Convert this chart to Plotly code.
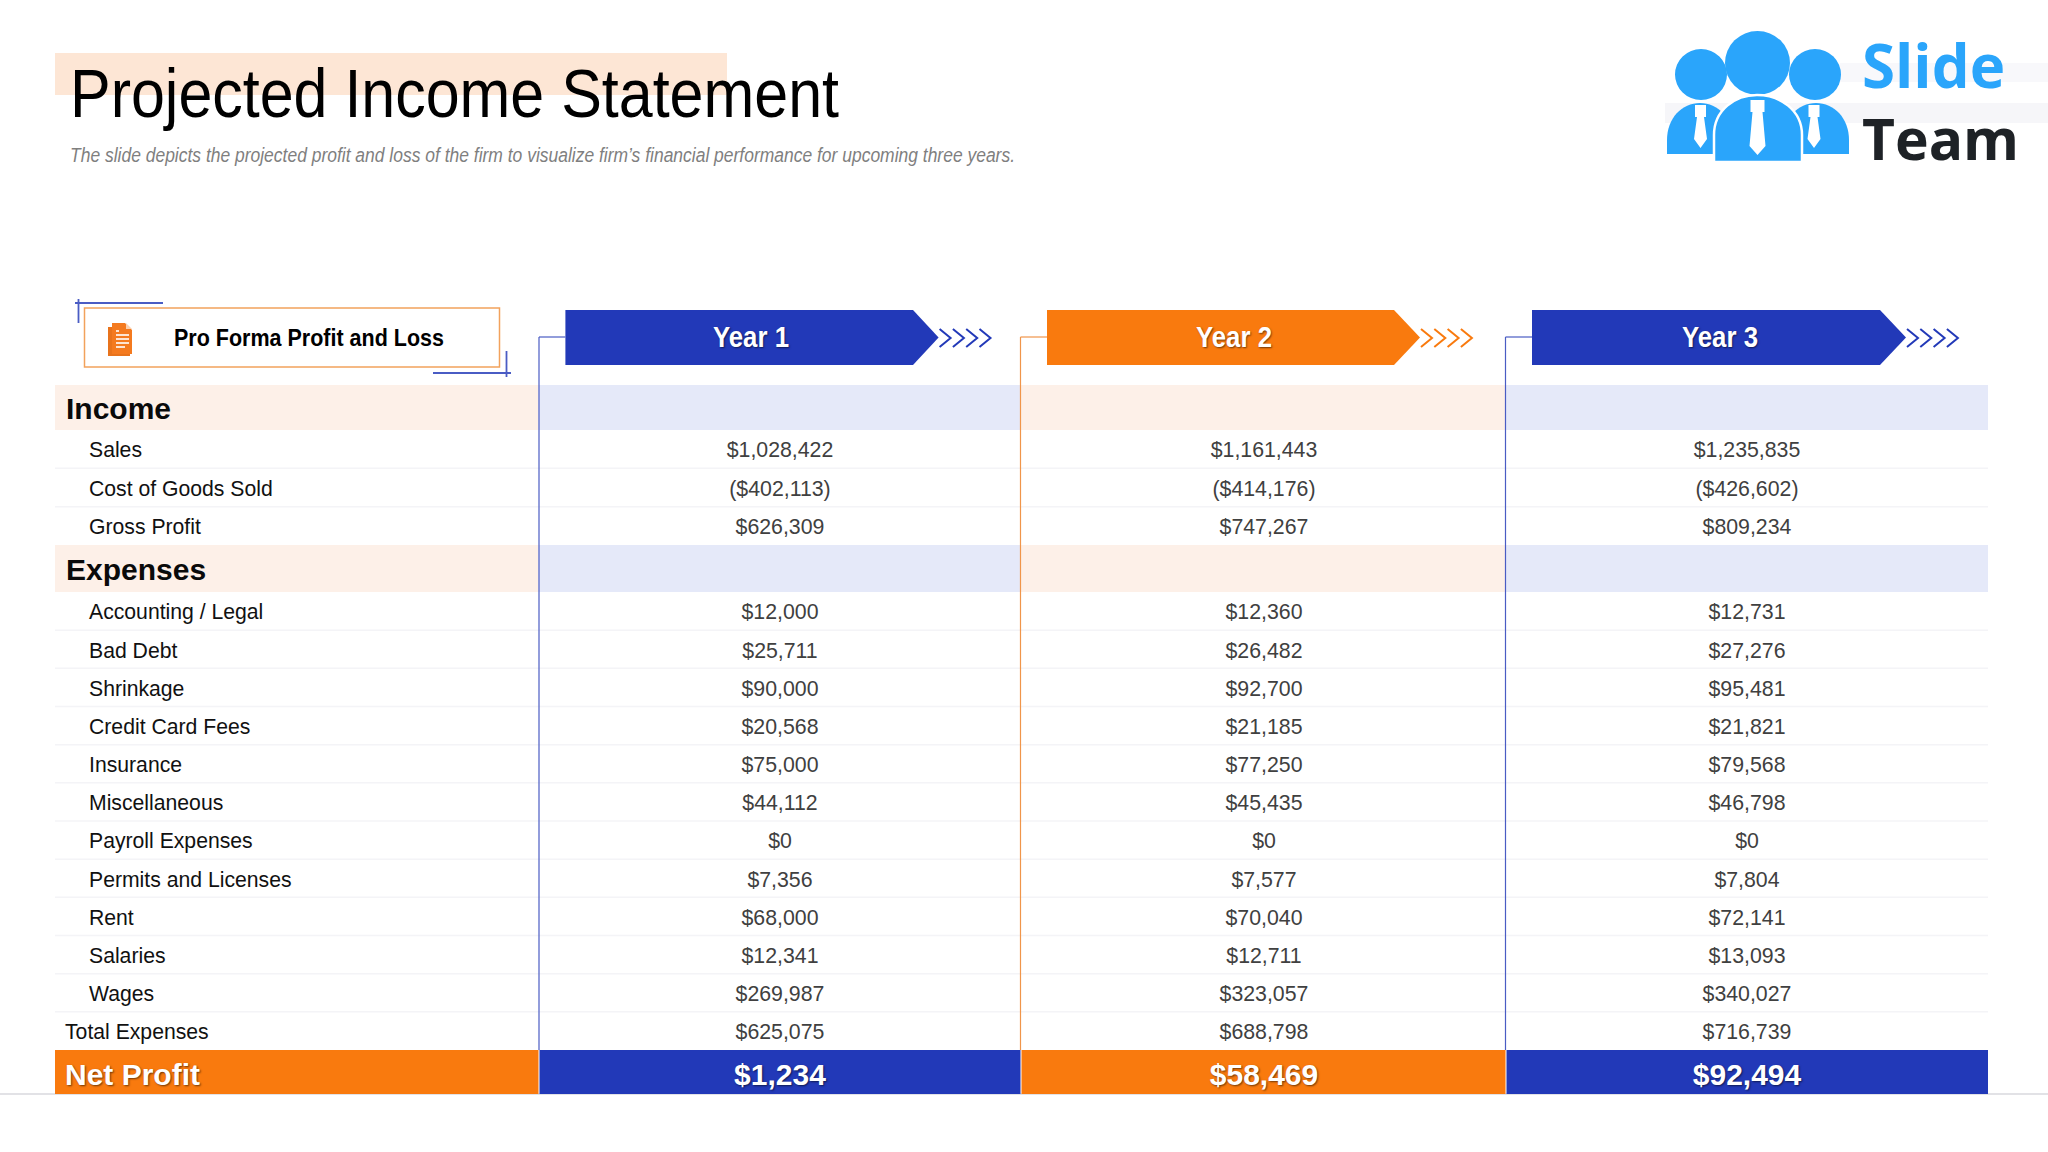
import json
import plotly.graph_objects as go

# ---------- data ----------
title = "Projected Income Statement"
subtitle = "The slide depicts the projected profit and loss of the firm to visualize firm’s financial performance for upcoming three years."
table_heading = "Pro Forma Profit and Loss"
years = ["Year 1", "Year 2", "Year 3"]
income_labels = ["Sales", "Cost of Goods Sold", "Gross Profit"]
income_y1 = [1028422, -402113, 626309]
income_y2 = [1161443, -414176, 747267]
income_y3 = [1235835, -426602, 809234]
expense_labels = ["Accounting / Legal", "Bad Debt", "Shrinkage", "Credit Card Fees", "Insurance",
                  "Miscellaneous", "Payroll Expenses", "Permits and Licenses", "Rent", "Salaries",
                  "Wages", "Total Expenses"]
expense_y1 = [12000, 25711, 90000, 20568, 75000, 44112, 0, 7356, 68000, 12341, 269987, 625075]
expense_y2 = [12360, 26482, 92700, 21185, 77250, 45435, 0, 7577, 70040, 12711, 323057, 688798]
expense_y3 = [12731, 27276, 95481, 21821, 79568, 46798, 0, 7804, 72141, 13093, 340027, 716739]
net_profit = [1234, 58469, 92494]

# ---------- style / layout ----------
BLUE, ORANGE = "#2239B8", "#F97A0E"
L_BLUE, L_ORANGE = "#E5E9F9", "#FDF0E8"
LINE_BLUE, LINE_ORANGE = "#4A5CC4", "#F0954A"
SKY = "#2AA5FB"
ARIAL = "Liberation Sans"
COL_EDGES = [55, 538.5, 1020.5, 1505.5, 1988]
COL_CENTERS = [780, 1264, 1747]
COL_FILL = [L_ORANGE, L_BLUE, L_ORANGE, L_BLUE]
TOP, INC_END, GP_END, EXP_END, TOT_END, NET_END = 385, 430, 545, 592, 1050, 1094
inc_h = (GP_END - INC_END) / len(income_labels)
exp_h = (TOT_END - EXP_END) / len(expense_labels)
inc_rows = [INC_END + (i + .5) * inc_h for i in range(len(income_labels))]
exp_rows = [EXP_END + (i + .5) * exp_h for i in range(len(expense_labels))]
TXT_DY = 3.0
# widths (px) to which the condensed texts of the original are squeezed
CONDENSED = {title: 769, subtitle: 945, table_heading: 270, years[0]: 76, years[1]: 76, years[2]: 76}


def money(v):
    return f"(${-v:,})" if v < 0 else f"${v:,}"


shapes = []


def rect(x0, y0, x1, y1, fill, line=None, lw=0):
    shapes.append(dict(type="rect", xref="x", yref="y", x0=x0, y0=y0, x1=x1, y1=y1, fillcolor=fill,
                       line=dict(color=line or fill, width=lw), layer="below"))


def seg(x0, y0, x1, y1, color, w=1.5):
    shapes.append(dict(type="line", xref="x", yref="y", x0=x0, y0=y0, x1=x1, y1=y1,
                       line=dict(color=color, width=w), layer="below"))


def path(d, fill=None, line=None, lw=0):
    s = dict(type="path", xref="x", yref="y", path=d, layer="below", line=dict(width=lw, color=line or "rgba(0,0,0,0)"))
    if fill:
        s["fillcolor"] = fill
    shapes.append(s)


def ell(x0, y0, x1, y1, fill):
    shapes.append(dict(type="circle", xref="x", yref="y", x0=x0, y0=y0, x1=x1, y1=y1, fillcolor=fill,
                       line=dict(width=0), layer="below"))


# logo faint bands and title block
rect(1840, 63, 2048, 82, "#F8F8FB")
rect(1665, 103, 2048, 123, "#F6F6F9")
rect(55, 53, 727, 95, "#FDE6D5")

# section bands
for y0, y1 in [(TOP, INC_END), (GP_END, EXP_END)]:
    for i, f in enumerate(COL_FILL):
        rect(COL_EDGES[i], y0, COL_EDGES[i + 1], y1, f)
# row separators
for i in range(1, len(income_labels)):
    seg(55, INC_END + i * inc_h, 1988, INC_END + i * inc_h, "#F4F4F7", 1.5)
for i in range(1, len(expense_labels)):
    seg(55, EXP_END + i * exp_h, 1988, EXP_END + i * exp_h, "#F4F4F7", 1.5)
# bottom page rule
seg(0, 1094, 2048, 1094, "#D9D9DE", 1.5)
# net profit band
net_fill = [ORANGE, BLUE, ORANGE, BLUE]
for i, f in enumerate(net_fill):
    rect(COL_EDGES[i] + (1 if i else 0), TOT_END, COL_EDGES[i + 1], NET_END, f)

# year headers
arrows = [(565.4, 913, 938.6, BLUE, LINE_BLUE, 539), (1047, 1394, 1420, ORANGE, LINE_ORANGE, 1020.5),
          (1532, 1880, 1906, BLUE, LINE_BLUE, 1505.5)]
for x0, xs, xt, fill, lc, vx in arrows:
    path(f"M{x0},310 L{xs},310 L{xt},337.5 L{xs},365 L{x0},365 Z", fill=fill)
    seg(vx, 337, x0, 337, lc, 1.2)
    seg(vx, 337, vx, TOT_END, lc, 1.2)
    for k in range(4):
        cx = xt + 1 + k * 13.3
        path(f"M{cx},329 L{cx + 11},338 L{cx},347", line=fill, lw=2)

# heading box
rect(84.5, 308, 499.5, 367, "white", "#F2A25C", 1.5)
seg(75, 303, 163, 303, LINE_BLUE, 1.8)
seg(78.5, 299, 78.5, 323, LINE_BLUE, 1.8)
seg(433, 373, 511, 373, LINE_BLUE, 1.8)
seg(506.5, 351, 506.5, 377, LINE_BLUE, 1.8)
# document icon
IC = "#F47A1F"
path("M108,327 L112,327 L112,351 L130,351 L130,356 L108,356 Z", fill="#E8731C")
path("M112,323 L125,323 L132,330 L132,354 L112,354 Z", fill=IC)
path("M126,323 L132,329 L126,329 Z", fill="#FBD0AE")
for y, x1 in [(331, 119), (335, 129), (339, 129), (343, 129), (347, 125)]:
    seg(116, y, x1, y, "white", 1.6)

# logo
ell(1675, 49, 1727, 100, SKY)
ell(1789, 49, 1841, 100, SKY)
path("M1667,154 L1667,140 C1667,118 1682,103 1700,103 C1718,103 1733,118 1733,140 L1733,154 Z", fill=SKY)
path("M1783,154 L1783,140 C1783,118 1798,103 1816,103 C1834,103 1849,118 1849,140 L1849,154 Z", fill=SKY)
ell(1725, 31, 1790, 95, SKY)
path("M1714,162 L1714,135 C1714,110 1735,95 1757,95 C1780,95 1802,110 1802,135 L1802,162 Z", fill=SKY, line="white", lw=2.5)
for cx, top, bot, w in [(1700.5, 105, 148, 5.5), (1814, 105, 148, 5.5), (1757.5, 100, 155, 7)]:
    path(f"M{cx - w},{top} L{cx + w},{top} L{cx + w},{top + 12} L{cx + w - 2},{top + 12} "
         f"L{cx + w + 1},{bot - 9} L{cx},{bot} L{cx - w - 1},{bot - 9} L{cx - w + 2},{top + 12} L{cx - w},{top + 12} Z",
         fill="white")

fig = go.Figure()


def text(xs, ys, labels, family, size, color, pos="middle center", weight=None, style=None, shadow=None):
    font = dict(family=family, size=size, color=color)
    if weight:
        font["weight"] = weight
    if style:
        font["style"] = style
    if shadow:
        font["shadow"] = shadow
    fig.add_trace(go.Scatter(x=xs, y=ys, text=labels, mode="text", textposition=pos, textfont=font,
                             hoverinfo="skip", showlegend=False, cliponaxis=False))


SH = "1px 1px 2px rgba(0,0,0,0.55)"
text([70], [100], [title], ARIAL, 68, "#000000", "middle right")
text([70], [157], [subtitle], ARIAL, 20, "#7F7F7F", "middle right", style="italic")
text([309], [340], [table_heading], ARIAL, 24, "#000000", weight=700)
text([751, 1234, 1720], [340] * 3, years, ARIAL, 29, "white", weight=700, shadow=SH)
text([66, 66], [411.5, 572], ["Income", "Expenses"], ARIAL, 30, "#0A0A0A", "middle right", weight=700)
text([89] * 3, [y + TXT_DY for y in inc_rows], income_labels, ARIAL, 21.2, "#111111", "middle right")
text([89] * 11 + [65], [y + TXT_DY for y in exp_rows], expense_labels, ARIAL, 21.2, "#111111", "middle right")
for cx, iv, ev in zip(COL_CENTERS, [income_y1, income_y2, income_y3], [expense_y1, expense_y2, expense_y3]):
    text([cx] * 3, [y + TXT_DY for y in inc_rows], [money(v) for v in iv], ARIAL, 21.3, "#404040")
    text([cx] * 12, [y + TXT_DY for y in exp_rows], [money(v) for v in ev], ARIAL, 21.3, "#404040")
text([65], [1077.5], ["Net Profit"], ARIAL, 30, "white", "middle right", weight=700, shadow=SH)
text(COL_CENTERS, [1077.5] * 3, [money(v) for v in net_profit], ARIAL, 30, "white", weight=700, shadow=SH)
text([1862], [73], ["Slide"], "Open Sans", 60, SKY, "middle right", weight=700)
text([1862], [145.5], ["Team"], "Open Sans", 57, "#1E2226", "middle right", weight=700)

fig.update_layout(width=2048, height=1152, margin=dict(l=0, r=0, t=0, b=0), paper_bgcolor="white",
                  plot_bgcolor="white", shapes=shapes, showlegend=False,
                  xaxis=dict(range=[0, 2048], visible=False, fixedrange=True),
                  yaxis=dict(range=[1152, 0], visible=False, fixedrange=True))
post = ("document.body.style.margin='0';document.documentElement.style.overflow='hidden';"
        "var m=" + json.dumps(CONDENSED) + ";"
        "document.querySelectorAll('svg text').forEach(function(t){var n=m[t.textContent];"
        "if(n){t.setAttribute('textLength',n);t.setAttribute('lengthAdjust','spacingAndGlyphs');}});")
fig.write_html("out.html", post_script=post, config={"displayModeBar": False})
